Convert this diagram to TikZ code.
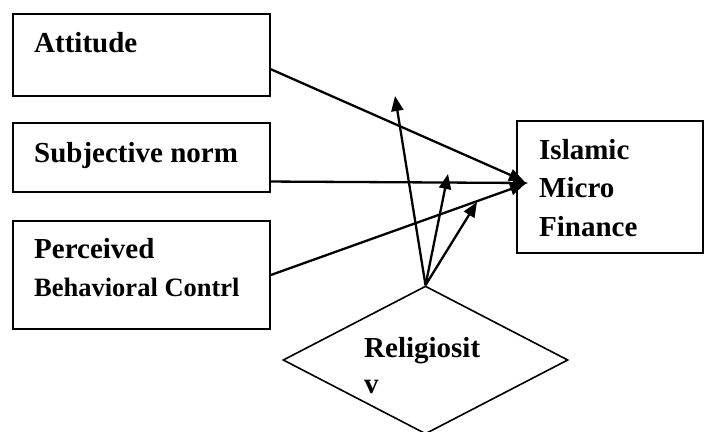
\documentclass[tikz,border=0pt]{standalone}
\usepackage{fontspec}
\setmainfont{Liberation Serif}
\usetikzlibrary{shapes.geometric,arrows.meta,calc}
\begin{document}
\begin{tikzpicture}[x=1pt,y=-1pt,
  box/.style={draw,line width=1.7pt,rectangle,inner sep=0pt,minimum width=#1},
  lbl/.style={anchor=base west,inner sep=0pt,font=\fontsize{29}{34}\selectfont\bfseries},
  slbl/.style={anchor=base west,inner sep=0pt,font=\fontsize{26.5}{30}\selectfont\bfseries},
  conn/.style={line width=2.3pt,-{Triangle[length=15pt,width=12pt]}}]
\useasboundingbox (0,0) rectangle (708,431);
\begin{scope}
\clip (0,0) rectangle (708,431);
% boxes
\node[box=257pt,minimum height=82pt] (att) at (141.5,55) {};
\node[box=257pt,minimum height=69pt] (sub) at (141.5,157.5) {};
\node[box=257pt,minimum height=108pt] (per) at (141.5,275) {};
\node[box=186pt,minimum height=132pt] (imf) at (610,187) {};
\node[draw,line width=1.6pt,diamond,inner sep=0pt,minimum width=285pt,minimum height=148pt] (rel) at (425.5,360) {};
% texts
\node[lbl] (tatt) at (34,52) {Attitude};
\node[lbl] (tsub) at (34,162) {Subjective norm};
\node[lbl] (tper1) at (34,258) {Perceived};
\node[slbl] (tper2) at (34,296) {Behavioral Contrl};
\node[lbl] (timf1) at (539,159) {Islamic};
\node[lbl] (timf2) at (539,197) {Micro};
\node[lbl] (timf3) at (539,236) {Finance};
\node[lbl] (trel1) at (364,357) {Religiosit};
\node[lbl] (trel2) at (364,393) {v};
% endpoints
\coordinate (tA) at (524,181);
\coordinate (tS) at (528,183);
\coordinate (tP) at (525,184);
\coordinate (r1) at (395,96);
\coordinate (r2) at (448,174);
\coordinate (r3) at (477,202);
% connectors
\draw[conn] ($(att.north east)!0.67!(att.south east)$) -- (tA);
\draw[conn] ($(sub.north east)!0.84!(sub.south east)$) -- (tS);
\draw[conn] (per.east) -- (tP);
\draw[conn] (rel.north) -- (r1);
\draw[conn] (rel.north) -- (r2);
\draw[conn] (rel.north) -- (r3);
\end{scope}
\end{tikzpicture}
\end{document}
